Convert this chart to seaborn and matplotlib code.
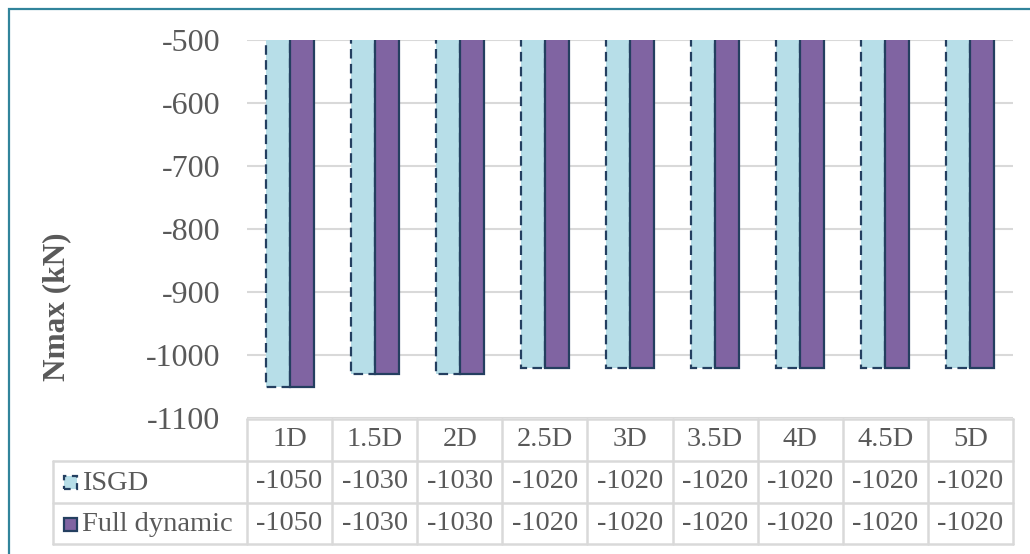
import matplotlib
matplotlib.use("Agg")
import matplotlib.pyplot as plt
import seaborn as sns
import pandas as pd
from matplotlib.patches import Rectangle
from matplotlib.lines import Line2D
import matplotlib.transforms as mtransforms

categories = ["1D", "1.5D", "2D", "2.5D", "3D", "3.5D", "4D", "4.5D", "5D"]
isgd = [-1050, -1030, -1030, -1020, -1020, -1020, -1020, -1020, -1020]
full_dynamic = [-1050, -1030, -1030, -1020, -1020, -1020, -1020, -1020, -1020]
series_names = ["ISGD", "Full dynamic"]
y_ticks = [-1100, -1000, -900, -800, -700, -600, -500]

c_isgd = "#B7DEE8"
c_full = "#8064A2"
c_edge = "#243F60"
c_text = "#595959"
c_grid = "#D9D9D9"

df = pd.DataFrame({
    "dist": categories * 2,
    "N": isgd + full_dynamic,
    "series": [series_names[0]] * len(categories) + [series_names[1]] * len(categories),
})

sns.set_style("white")
plt.rcParams["font.family"] = ["Liberation Serif", "DejaVu Serif"]

W, H = 1030, 554
fig = plt.figure(figsize=(W / 100, H / 100), dpi=100)

def px(x, y):
    return x / W, 1 - y / H

ax_l, ax_r, ax_t, ax_b = 247, 1013, 40, 418
ax = fig.add_axes([ax_l / W, 1 - ax_b / H, (ax_r - ax_l) / W, (ax_b - ax_t) / H])

sns.barplot(data=df, x="dist", y="N", hue="series", order=categories,
            hue_order=series_names, palette=[c_isgd, c_full], saturation=1, width=0.565,
            edgecolor=c_edge, linewidth=1.6, ax=ax, legend=False, zorder=3)
for bar in ax.containers[0]:
    bar.set_linestyle((0, (4.3, 2.4)))
    bar.set_linewidth(1.6)

ax.set_ylim(-1100, -500)
ax.set_xlim(-0.5, len(categories) - 0.5)
ax.set_yticks(y_ticks)
ax.set_yticklabels([str(v) for v in y_ticks], fontsize=23, color=c_text)
ax.tick_params(axis="y", length=0, pad=19)
ax.set_xticks([])
ax.set_xlabel("")
ax.set_ylabel("")
for s in ax.spines.values():
    s.set_visible(False)
ax.yaxis.grid(True, color=c_grid, linewidth=1.5, zorder=0)
ax.set_axisbelow(True)

fig.text(*px(57, 307), "Nmax (kN)", rotation=90, ha="center", va="center",
         fontsize=22.5, fontweight="bold", color=c_text)

# data table
trans = mtransforms.blended_transform_factory(ax.transData, ax.transAxes)
def ay(py):
    return (ax_b - py) / (ax_b - ax_t)

rows_y = [419, 461, 503, 544]
lab_x = (53 - ax_l) / (ax_r - ax_l)
n = len(categories)
tab_kw = dict(color=c_grid, linewidth=1.8, clip_on=False)
ax.add_line(Line2D([-0.5, n - 0.5], [ay(rows_y[0])] * 2, transform=trans, **tab_kw))
for yy in rows_y[1:]:
    ax.add_line(Line2D([lab_x, 1], [ay(yy)] * 2, transform=ax.transAxes, **tab_kw))
ax.add_line(Line2D([lab_x, lab_x], [ay(rows_y[1]), ay(rows_y[3])], transform=ax.transAxes, **tab_kw))
for i in range(n + 1):
    ax.add_line(Line2D([i - 0.5, i - 0.5], [ay(rows_y[0]), ay(rows_y[3])], transform=trans, **tab_kw))

fs_tab = 20.5
for i, cat in enumerate(categories):
    ax.text(i, ay((rows_y[0] + rows_y[1]) / 2), cat, transform=trans, ha="center", va="center",
            fontsize=fs_tab, color=c_text, clip_on=False)
    ax.text(i, ay((rows_y[1] + rows_y[2]) / 2), str(isgd[i]), transform=trans, ha="center", va="center",
            fontsize=fs_tab, color=c_text, clip_on=False)
    ax.text(i, ay((rows_y[2] + rows_y[3]) / 2), str(full_dynamic[i]), transform=trans, ha="center", va="center",
            fontsize=fs_tab, color=c_text, clip_on=False)

# row labels with legend keys
for r, (name, fc, ls) in enumerate([(series_names[0], c_isgd, (0, (3, 2.5))),
                                    (series_names[1], c_full, "-")]):
    yc = (rows_y[1 + r] + rows_y[2 + r]) / 2
    kx, ky = px(64, yc + 7)
    fig.patches.append(Rectangle((kx, ky), 13 / W, 13 / H, transform=fig.transFigure,
                                 facecolor=fc, edgecolor=c_edge, linewidth=1.6, linestyle=ls))
    fig.text(*px(82, yc + 1), name, ha="left", va="center", fontsize=fs_tab, color=c_text)

# chart border
fig.patches.append(Rectangle(px(9, 560), (1030 - 9 + 10) / W, (560 - 9) / H, transform=fig.transFigure,
                             facecolor="none", edgecolor="#31849B", linewidth=1.6))

fig.savefig("out.png", dpi=100)
